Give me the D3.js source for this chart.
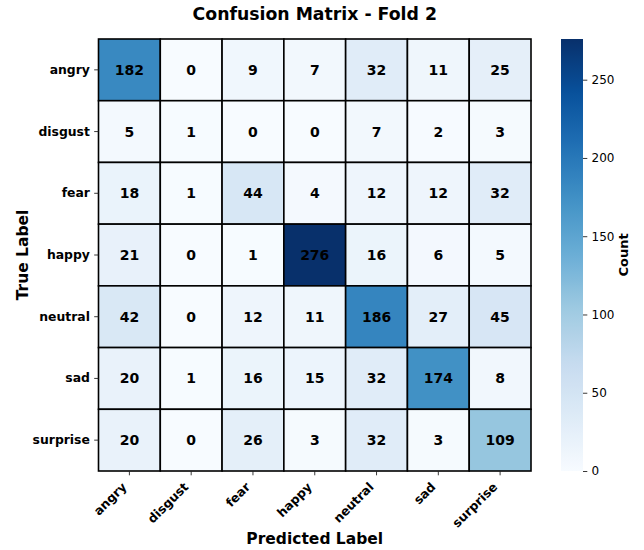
<!DOCTYPE html>
<html>
<head>
<meta charset="utf-8">
<script src="https://cdn.jsdelivr.net/npm/d3@7"></script>
<style>
    body { margin: 0; background: #fff; }
    text { font-family: 'DejaVu Sans', sans-serif; fill: #000; }
</style>
</head>
<body>
<svg id="chart" width="644" height="550"></svg>
<script>
// ------- Data -------

const labels = ['angry', 'disgust', 'fear', 'happy', 'neutral', 'sad', 'surprise'];

const counts = [
    [182, 0, 9, 7, 32, 11, 25],
    [5, 1, 0, 0, 7, 2, 3],
    [18, 1, 44, 4, 12, 12, 32],
    [21, 0, 1, 276, 16, 6, 5],
    [42, 0, 12, 11, 186, 27, 45],
    [20, 1, 16, 15, 32, 174, 8],
    [20, 0, 26, 3, 32, 3, 109]
];

const colourbarTicks = [0, 50, 100, 150, 200, 250];

const titleText = 'Confusion Matrix - Fold 2';

// matplotlib 'Blues' anchor colours
const bluesColours = ['#f7fbff', '#deebf7', '#c6dbef', '#9ecae1', '#6baed6', '#4292c6', '#2171b5', '#08519c', '#08306b'];

// ------- Set up -------

const svg = d3.select('#chart');

const grid = {left: 98.5, right: 531, top: 39, bottom: 471};
const tickLen = 4.3;
const tickPad = 4.3;

const cells = [];
counts.forEach((row, i) => row.forEach((v, j) => cells.push({trueLabel: labels[i], predLabel: labels[j], value: v})));

const maxValue = d3.max(cells, d => d.value);

const colourScale = d3.scaleLinear()
    .domain(bluesColours.map((c, i) => maxValue * i / (bluesColours.length - 1)))
    .range(bluesColours)
    .interpolate(d3.interpolateRgb);

const xScale = d3.scaleBand().domain(labels).range([grid.left, grid.right]);
const yScale = d3.scaleBand().domain(labels).range([grid.top, grid.bottom]);

// ------- Title -------

svg.append('text')
    .attr('x', (grid.left + grid.right) / 2)
    .attr('y', 20)
    .attr('text-anchor', 'middle')
    .style('font-size', '17.3px')
    .style('font-weight', 'bold')
    .text(titleText);

// ------- Heatmap cells -------

const cellG = svg.append('g').attr('class', 'cells');

cellG.selectAll('rect')
    .data(cells)
    .enter()
    .append('rect')
        .attr('x', d => xScale(d.predLabel))
        .attr('y', d => yScale(d.trueLabel))
        .attr('width', xScale.bandwidth())
        .attr('height', yScale.bandwidth())
        .attr('fill', d => colourScale(d.value))
        .attr('stroke', '#000')
        .attr('stroke-width', 1.6);

cellG.selectAll('text')
    .data(cells)
    .enter()
    .append('text')
        .attr('x', d => xScale(d.predLabel) + xScale.bandwidth() / 2)
        .attr('y', d => yScale(d.trueLabel) + yScale.bandwidth() / 2)
        .attr('text-anchor', 'middle')
        .attr('dominant-baseline', 'central')
        .style('font-size', '14px')
        .style('font-weight', 'bold')
        .text(d => d.value);

// ------- Axes -------

const yAxisG = svg.append('g')
    .attr('transform', `translate(${grid.left}, 0)`)
    .call(d3.axisLeft(yScale).tickSize(tickLen).tickPadding(tickPad));

yAxisG.select('.domain').remove();
yAxisG.selectAll('.tick line').attr('stroke', '#222').attr('stroke-width', 0.9);
yAxisG.selectAll('.tick text')
    .style('font-size', '12.4px')
    .style('font-weight', 'bold')
    .style('font-family', "'DejaVu Sans', sans-serif")
    .attr('fill', '#000');

const xAxisG = svg.append('g')
    .attr('transform', `translate(0, ${grid.bottom})`)
    .call(d3.axisBottom(xScale).tickSize(tickLen).tickPadding(tickPad));

xAxisG.select('.domain').remove();
xAxisG.selectAll('.tick line').attr('stroke', '#222').attr('stroke-width', 0.9);
xAxisG.selectAll('.tick text')
    .style('font-size', '12.4px')
    .style('font-weight', 'bold')
    .style('font-family', "'DejaVu Sans', sans-serif")
    .attr('fill', '#000')
    .attr('text-anchor', 'end')
    .attr('dy', null)
    .attr('y', null)
    .attr('transform', `translate(-2, ${tickLen + tickPad + 8.1}) rotate(-45)`);

svg.append('text')
    .attr('x', (grid.left + grid.right) / 2)
    .attr('y', 544)
    .attr('text-anchor', 'middle')
    .style('font-size', '15.5px')
    .style('font-weight', 'bold')
    .text('Predicted Label');

svg.append('text')
    .attr('transform', `translate(27.5, ${(grid.top + grid.bottom) / 2}) rotate(-90)`)
    .attr('text-anchor', 'middle')
    .style('font-size', '15.5px')
    .style('font-weight', 'bold')
    .text('True Label');

// ------- Colour bar -------

const bar = {left: 561, width: 22};

const barScale = d3.scaleLinear()
    .domain([0, maxValue])
    .range([grid.bottom, grid.top]);

const gradient = svg.append('defs')
    .append('linearGradient')
        .attr('id', 'blues-gradient')
        .attr('x1', 0).attr('y1', 1)
        .attr('x2', 0).attr('y2', 0);

gradient.selectAll('stop')
    .data(d3.range(0, 1.0001, 0.02))
    .enter()
    .append('stop')
        .attr('offset', d => d)
        .attr('stop-color', d => colourScale(d * maxValue));

svg.append('rect')
    .attr('x', bar.left)
    .attr('y', grid.top)
    .attr('width', bar.width)
    .attr('height', grid.bottom - grid.top)
    .attr('fill', 'url(#blues-gradient)');

const barAxisG = svg.append('g')
    .attr('transform', `translate(${bar.left + bar.width}, 0)`)
    .call(d3.axisRight(barScale).tickValues(colourbarTicks).tickSize(tickLen).tickPadding(tickPad));

barAxisG.select('.domain').remove();
barAxisG.selectAll('.tick line').attr('stroke', '#222').attr('stroke-width', 0.9);
barAxisG.selectAll('.tick text')
    .style('font-size', '12px')
    .style('font-family', "'DejaVu Sans', sans-serif")
    .attr('fill', '#000');

svg.append('text')
    .attr('transform', `translate(627.5, ${(grid.top + grid.bottom) / 2}) rotate(-90)`)
    .attr('text-anchor', 'middle')
    .style('font-size', '13px')
    .style('font-weight', 'bold')
    .text('Count');
</script>
</body>
</html>
